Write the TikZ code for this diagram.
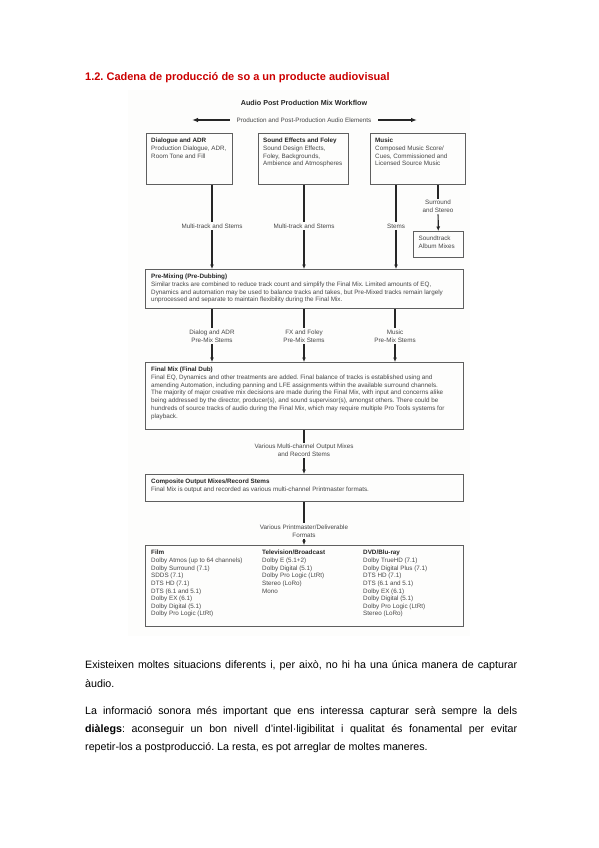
\documentclass[tikz,border=0pt]{standalone}
\usepackage{fontspec}
\setmainfont{Liberation Sans}
\usetikzlibrary{arrows.meta, positioning}
\definecolor{headred}{RGB}{204,0,0}
\definecolor{boxline}{RGB}{95,95,95}
\definecolor{figtext}{RGB}{70,70,70}
\definecolor{figbg}{RGB}{253,253,252}
\newcommand{\figfont}{\fontsize{6.3}{7.9}\selectfont}
\newcommand{\listfont}{\fontsize{6.3}{7.65}\selectfont}
\newcommand{\bodyfont}{\fontsize{10.7}{13}\selectfont}
\newcommand{\boxhead}[1]{\textbf{\color{black!85}#1}}
\frenchspacing

\begin{document}
\begin{tikzpicture}[x=1pt, y=-1pt,
    box/.style={rectangle, draw=boxline, line width=0.8pt, anchor=north west, inner sep=0pt},
    boxtext/.style={anchor=north west, align=left, inner sep=0pt, font=\figfont, text=figtext},
    flowlabel/.style={align=center, inner sep=1.5pt, font=\figfont, text=figtext},
    link/.style={line width=1.2pt, draw=black!85},
    arrow/.style={-{Latex[length=4.5pt, width=4pt]}, line width=1.2pt, draw=black!85},
    bigarrow/.style={-{Latex[length=6pt, width=4.5pt]}, line width=1.1pt, draw=black!85},
    para/.style={anchor=base west, inner sep=0pt, font=\bodyfont}
]
\useasboundingbox (0,0) rectangle (599,848);
\fill[white] (0,0) rectangle (599,848);
\fill[figbg] (128,90) rectangle (470,636);

% heading
\node[para, font=\fontsize{11}{13}\selectfont\bfseries, text=headred] (heading) at (85,81) {1.2. Cadena de producció de so a un producte audiovisual};

% figure title
\node[font=\fontsize{7.2}{9}\selectfont\bfseries, text=black!85] (title) at (304,103) {Audio Post Production Mix Workflow};
\node[flowlabel] (elem) at (304,120) {Production and Post-Production Audio Elements};
\coordinate (elemL) at (192,120);
\coordinate (elemR) at (417,120);
\draw[bigarrow, shorten <=5pt] (elem) -- (elemL);
\draw[bigarrow, shorten <=5pt] (elem) -- (elemR);

% sources
\node[box, minimum width=86pt, minimum height=51pt] (dia) at (146,133) {};
\node[boxtext] at ([xshift=5pt, yshift=-4.5pt]dia.north west) {\boxhead{Dialogue and ADR}\\Production Dialogue, ADR,\\Room Tone and Fill};
\node[box, minimum width=90pt, minimum height=51pt] (sfx) at (258,133) {};
\node[boxtext] at ([xshift=5pt, yshift=-4.5pt]sfx.north west) {\boxhead{Sound Effects and Foley}\\Sound Design Effects,\\Foley, Backgrounds,\\Ambience and Atmospheres};
\node[box, minimum width=95pt, minimum height=51pt] (mus) at (370,133) {};
\node[boxtext] at ([xshift=5pt, yshift=-4.5pt]mus.north west) {\boxhead{Music}\\Composed Music Score/\\Cues, Commissioned and\\Licensed Source Music};

\node[flowlabel] (lbdia) at (212,226) {Multi-track and Stems};
\node[flowlabel] (lbsfx) at (304,226) {Multi-track and Stems};
\node[flowlabel] (lbmus) at (396,226) {Stems};
\node[flowlabel] (lbsur) at (438,206.5) {Surround\\and Stereo};
\node[box, minimum width=50pt, minimum height=26pt] (snd) at (413,231) {};
\node[boxtext] at ([xshift=5.5pt, yshift=-5pt]snd.north west) {Soundtrack\\Album Mixes};

% pre-mixing
\node[box, minimum width=318pt, minimum height=39pt] (premix) at (145,269) {};
\node[boxtext] at ([xshift=6pt, yshift=-4.5pt]premix.north west) {\boxhead{Pre-Mixing (Pre-Dubbing)}\\Similar tracks are combined to reduce track count and simplify the Final Mix. Limited amounts of EQ,\\Dynamics and automation may be used to balance tracks and takes, but Pre-Mixed tracks remain largely\\unprocessed and separate to maintain flexibility during the Final Mix.};

\draw[link] (dia.south -| lbdia) -- (lbdia);
\draw[arrow] (lbdia) -- (lbdia |- premix.north);
\draw[link] (sfx.south -| lbsfx) -- (lbsfx);
\draw[arrow] (lbsfx) -- (lbsfx |- premix.north);
\draw[link] (mus.south -| lbmus) -- (lbmus);
\draw[arrow] (lbmus) -- (lbmus |- premix.north);
\draw[link] (mus.south -| lbsur) -- (lbsur);
\draw[arrow] (lbsur) -- (snd);

% final mix
\node[flowlabel] (lbpd) at (212,336) {Dialog and ADR\\Pre-Mix Stems};
\node[flowlabel] (lbpf) at (304,336) {FX and Foley\\Pre-Mix Stems};
\node[flowlabel] (lbpm) at (395,336) {Music\\Pre-Mix Stems};
\node[box, minimum width=318pt, minimum height=67pt] (final) at (145,362) {};
\node[boxtext] at ([xshift=6pt, yshift=-4.5pt]final.north west) {\boxhead{Final Mix (Final Dub)}\\Final EQ, Dynamics and other treatments are added. Final balance of tracks is established using and\\amending Automation, including panning and LFE assignments within the available surround channels.\\The majority of major creative mix decisions are made during the Final Mix, with input and concerns alike\\being addressed by the director, producer(s), and sound supervisor(s), amongst others. There could be\\hundreds of source tracks of audio during the Final Mix, which may require multiple Pro Tools systems for\\playback.};

\draw[link] (premix.south -| lbpd) -- (lbpd);
\draw[arrow] (lbpd) -- (lbpd |- final.north);
\draw[link] (premix.south -| lbpf) -- (lbpf);
\draw[arrow] (lbpf) -- (lbpf |- final.north);
\draw[link] (premix.south -| lbpm) -- (lbpm);
\draw[arrow] (lbpm) -- (lbpm |- final.north);

% composite and formats
\node[flowlabel] (lbout) at (304,450.5) {Various Multi-channel Output Mixes\\and Record Stems};
\node[box, minimum width=318pt, minimum height=27pt] (comp) at (145,474) {};
\node[boxtext] at ([xshift=6pt, yshift=-5pt]comp.north west) {\boxhead{Composite Output Mixes/Record Stems}\\Final Mix is output and recorded as various multi-channel Printmaster formats.};
\draw[link] (final.south -| lbout) -- (lbout);
\draw[arrow] (lbout) -- (lbout |- comp.north);

\node[flowlabel] (lbprint) at (304,531) {Various Printmaster/Deliverable\\Formats};
\node[box, minimum width=318pt, minimum height=81pt] (fmt) at (145,545) {};
\draw[link] (comp.south -| lbprint) -- (lbprint);
\draw[arrow] (lbprint) -- (lbprint |- fmt.north);

\node[boxtext, font=\listfont] (film) at ([xshift=6pt, yshift=-5pt]fmt.north west) {\boxhead{Film}\\Dolby Atmos (up to 64 channels)\\Dolby Surround (7.1)\\SDDS (7.1)\\DTS HD (7.1)\\DTS (6.1 and 5.1)\\Dolby EX (6.1)\\Dolby Digital (5.1)\\Dolby Pro Logic (LtRt)};
\node[boxtext, font=\listfont] (tv) at ([xshift=117pt, yshift=-5pt]fmt.north west) {\boxhead{Television/Broadcast}\\Dolby E (5.1+2)\\Dolby Digital (5.1)\\Dolby Pro Logic (LtRt)\\Stereo (LoRo)\\Mono};
\node[boxtext, font=\listfont] (dvd) at ([xshift=218pt, yshift=-5pt]fmt.north west) {\boxhead{DVD/Blu-ray}\\Dolby TrueHD (7.1)\\Dolby Digital Plus (7.1)\\DTS HD (7.1)\\DTS (6.1 and 5.1)\\Dolby EX (6.1)\\Dolby Digital (5.1)\\Dolby Pro Logic (LtRt)\\Stereo (LoRo)};

% paragraphs
\node[para] (p1a) at (85,668) {\makebox[432pt][s]{Existeixen moltes situacions diferents i, per això, no hi ha una única manera de capturar}};
\node[para] (p1b) at (85,687) {àudio.};
\node[para] (p2a) at (85,714) {\makebox[432pt][s]{La informació sonora més important que ens interessa capturar serà sempre la dels}};
\node[para] (p2b) at (85,732) {\makebox[432pt][s]{\textbf{diàlegs}: aconseguir un bon nivell d'intel·ligibilitat i qualitat és fonamental per evitar}};
\node[para] (p2c) at (85,750) {repetir-los a postproducció. La resta, es pot arreglar de moltes maneres.};
\end{tikzpicture}
\end{document}
